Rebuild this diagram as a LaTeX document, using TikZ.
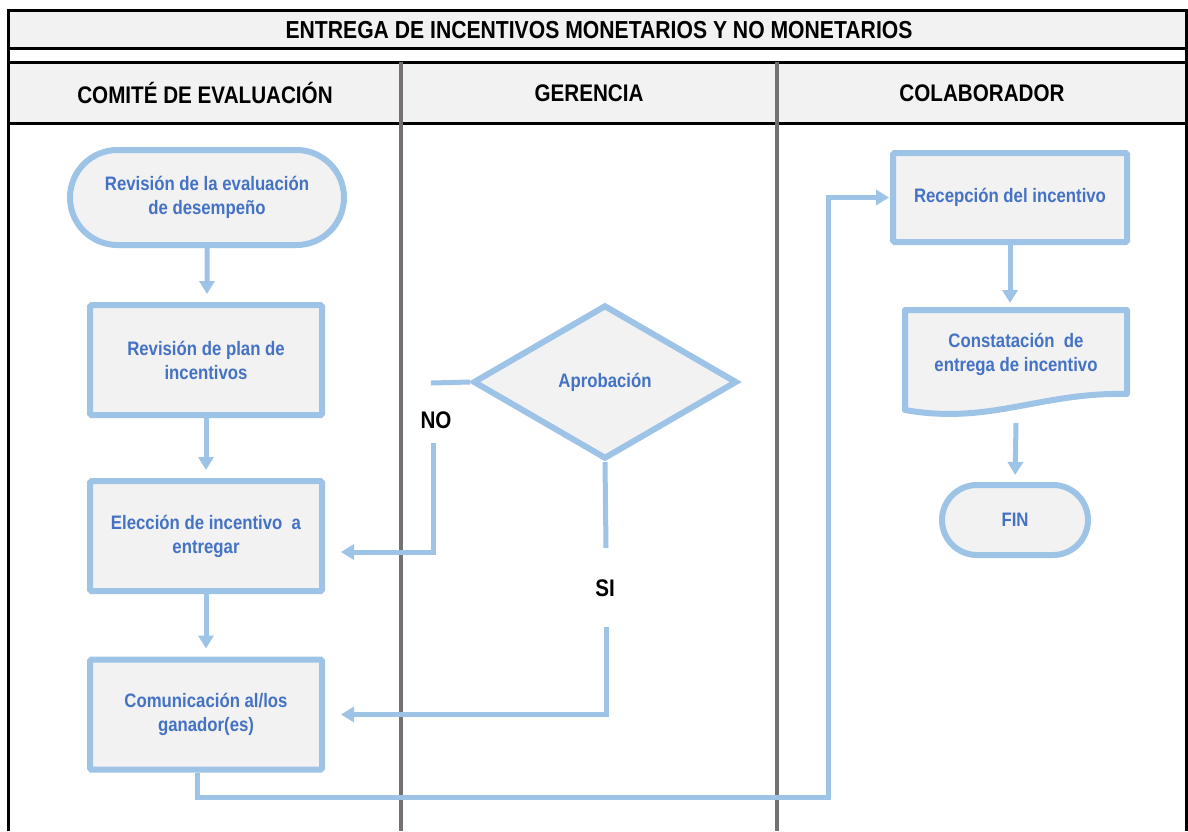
\documentclass[tikz,border=0pt]{standalone}
\usepackage{fontspec}
\setmainfont{Liberation Sans}
\newfontfamily\narrowfont{Liberation Sans}[FakeStretch=0.86]
\usetikzlibrary{arrows.meta,shapes.misc,shapes.geometric,calc,backgrounds}

\definecolor{flowblue}{HTML}{9DC3E6}
\definecolor{textblue}{HTML}{4472C4}
\definecolor{cellgray}{HTML}{F2F2F2}
\definecolor{lanegray}{HTML}{767171}

\begin{document}
\begin{tikzpicture}[x=1pt,y=-1pt,
  nodetext/.style={text=textblue, align=center,
    font=\narrowfont\bfseries\fontsize{19.5}{24}\selectfont},
  shapeline/.style={draw=flowblue, line width=6pt, fill=cellgray},
  procbox/.style={shapeline, nodetext, rectangle, rounded corners=1.5pt,
    inner sep=0pt, minimum width=232pt, minimum height=110pt},
  termbox/.style={shapeline, nodetext, rounded rectangle, inner sep=0pt},
  decision/.style={shapeline, nodetext, diamond, inner sep=0pt,
    minimum width=264pt, minimum height=154pt},
  flow/.style={draw=flowblue, line width=5pt},
  flowarrow/.style={flow, -{Triangle[width=15pt,length=13pt]}},
  branchlabel/.style={text=black, inner sep=0pt,
    font=\narrowfont\bfseries\fontsize{24}{28}\selectfont},
  headtext/.style={text=black,
    font=\narrowfont\bfseries\fontsize{24}{28}\selectfont},
  frameline/.style={draw=black, line width=3pt},
  laneline/.style={draw=lanegray, line width=4pt},
]
\useasboundingbox (0,0) rectangle (1188,831);

% table frame: title bar, header row and swimlanes
\fill[cellgray] (8,10) rectangle (1186,48);
\fill[cellgray] (8,62) rectangle (1186,123);
\draw[frameline] (8,831) -- (8,10) -- (1186,10) -- (1186,831);
\draw[frameline] (8,48) -- (1186,48);
\draw[frameline] (8,62) -- (1186,62);
\draw[frameline] (8,123) -- (1186,123);
\draw[laneline] (401,62) -- (401,831);
\draw[laneline] (777,62) -- (777,831);

\node[headtext, font=\narrowfont\bfseries\fontsize{24.6}{28}\selectfont] (title) at (599,30)
  {ENTREGA DE INCENTIVOS MONETARIOS Y NO MONETARIOS};
\node[headtext] (lane1) at (205,93) {COMITÉ DE EVALUACIÓN};
\node[headtext] (lane2) at (589,93) {GERENCIA};
\node[headtext] (lane3) at (982,93) {COLABORADOR};

% Comité de evaluación
\node[termbox, minimum width=274pt, minimum height=95pt] (start) at (207,197.5)
  {Revisión de la evaluación\\de desempeño};
\node[procbox] (plan) at (206,360) {Revisión de plan de\\incentivos};
\node[procbox] (choice) at (206,536) {Elección de incentivo\ \ a\\entregar};
\node[procbox] (notify) at (206,714.5) {Comunicación al/los\\ganador(es)};

% Gerencia
\node[decision] (approve) at (605,382) {Aprobación};

% Colaborador
\node[procbox, minimum width=234pt, minimum height=89pt] (receive) at (1010,197.5)
  {Recepción del incentivo};
\node[nodetext, inner sep=0pt, outer sep=0pt, minimum width=222pt,
  minimum height=88pt] (doc) at (1016,354) {Constatación\ \ de\\entrega de incentivo};
\begin{scope}[on background layer]
  \filldraw[shapeline, line join=round]
    (doc.north west) -- (doc.north east) -- ($(doc.south east)+(0,-4)$)
    .. controls ($(doc.south east)+(-87,-6)$) and ($(doc.south west)+(85,27)$)
    .. ($(doc.south west)+(0,12)$) -- cycle;
\end{scope}
\node[termbox, minimum width=146pt, minimum height=70pt] (fin) at (1015,520) {FIN};

% branch labels and break points of the decision lines
\node[branchlabel] (no) at (436,420) {NO};
\node[branchlabel] (si) at (605,588) {SI};
\coordinate (noturn) at (431,383);
\coordinate (noresume) at (433,443);
\coordinate (nostop) at (341,552);
\coordinate (sistop) at (606,548);
\coordinate (siresume) at (606,627);
\coordinate (backturn) at (828,797);

% connectors
\draw[flowarrow, shorten >=8pt] (start) -- (start.south |- plan.north);
\draw[flowarrow, shorten >=8pt] (plan) -- (plan.south |- choice.north);
\draw[flowarrow, shorten >=8pt] (choice) -- (choice.south |- notify.north);

\draw[flow] (approve.west) -- (noturn);
\draw[flowarrow] (noresume) |- (nostop);
\draw[flow] (approve.south) -- (sistop);
\draw[flowarrow, shorten >=16pt] (siresume) |- (notify.east);

\draw[flowarrow, shorten >=1pt] ([xshift=-9pt]notify.south) |- (backturn) |- (receive.west);
\draw[flowarrow, shorten >=7pt] (receive.south) -- (receive.south |- doc.north);
\draw[flowarrow, shorten >=7pt] ($(doc.south)+(0,25)$) -- (fin.north);
\end{tikzpicture}
\end{document}
